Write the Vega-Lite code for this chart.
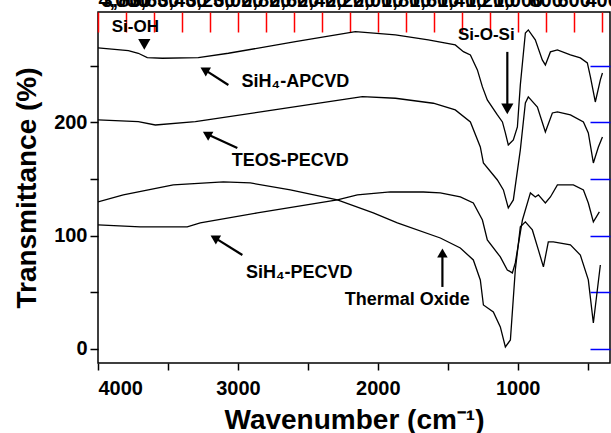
{
  "$schema": "https://vega.github.io/schema/vega-lite/v6.json",
  "width": 512,
  "height": 351,
  "autosize": {"type": "none"},
  "padding": {"left": 98, "top": 12, "right": 1, "bottom": 70},
  "background": "white",
  "config": {
    "view": {"stroke": "black", "strokeWidth": 1.5},
    "font": "Liberation Sans",
    "axis": {"grid": false, "domain": false, "tickColor": "black", "tickWidth": 1.5, "labelColor": "black", "titleColor": "black", "labelFont": "Liberation Sans", "titleFont": "Liberation Sans", "labelFontWeight": "bold", "titleFontWeight": "bold", "labelFontSize": 20, "titleFontSize": 28, "labelOverlap": false}
  },
  "datasets": {
    "spectra": [
      {"film": "SiH4-APCVD", "wavenumber": 4000, "transmittance": 265.6},
      {"film": "SiH4-APCVD", "wavenumber": 3783, "transmittance": 263.2},
      {"film": "SiH4-APCVD", "wavenumber": 3712, "transmittance": 260.9},
      {"film": "SiH4-APCVD", "wavenumber": 3648, "transmittance": 257.0},
      {"film": "SiH4-APCVD", "wavenumber": 3540, "transmittance": 256.5},
      {"film": "SiH4-APCVD", "wavenumber": 3283, "transmittance": 257.0},
      {"film": "SiH4-APCVD", "wavenumber": 3068, "transmittance": 260.9},
      {"film": "SiH4-APCVD", "wavenumber": 2589, "transmittance": 271.1},
      {"film": "SiH4-APCVD", "wavenumber": 2160, "transmittance": 280.0},
      {"film": "SiH4-APCVD", "wavenumber": 1874, "transmittance": 277.1},
      {"film": "SiH4-APCVD", "wavenumber": 1639, "transmittance": 272.7},
      {"film": "SiH4-APCVD", "wavenumber": 1446, "transmittance": 268.2},
      {"film": "SiH4-APCVD", "wavenumber": 1388, "transmittance": 262.3},
      {"film": "SiH4-APCVD", "wavenumber": 1338, "transmittance": 259.4},
      {"film": "SiH4-APCVD", "wavenumber": 1288, "transmittance": 246.2},
      {"film": "SiH4-APCVD", "wavenumber": 1252, "transmittance": 231.2},
      {"film": "SiH4-APCVD", "wavenumber": 1217, "transmittance": 219.7},
      {"film": "SiH4-APCVD", "wavenumber": 1145, "transmittance": 206.5},
      {"film": "SiH4-APCVD", "wavenumber": 1109, "transmittance": 200.3},
      {"film": "SiH4-APCVD", "wavenumber": 1088, "transmittance": 190.6},
      {"film": "SiH4-APCVD", "wavenumber": 1067, "transmittance": 180.0},
      {"film": "SiH4-APCVD", "wavenumber": 1031, "transmittance": 184.4},
      {"film": "SiH4-APCVD", "wavenumber": 1002, "transmittance": 195.9},
      {"film": "SiH4-APCVD", "wavenumber": 981, "transmittance": 233.0},
      {"film": "SiH4-APCVD", "wavenumber": 945, "transmittance": 278.8},
      {"film": "SiH4-APCVD", "wavenumber": 924, "transmittance": 281.5},
      {"film": "SiH4-APCVD", "wavenumber": 874, "transmittance": 272.7},
      {"film": "SiH4-APCVD", "wavenumber": 824, "transmittance": 255.0},
      {"film": "SiH4-APCVD", "wavenumber": 802, "transmittance": 250.6},
      {"film": "SiH4-APCVD", "wavenumber": 766, "transmittance": 262.1},
      {"film": "SiH4-APCVD", "wavenumber": 716, "transmittance": 263.8},
      {"film": "SiH4-APCVD", "wavenumber": 623, "transmittance": 259.4},
      {"film": "SiH4-APCVD", "wavenumber": 552, "transmittance": 256.8},
      {"film": "SiH4-APCVD", "wavenumber": 502, "transmittance": 252.4},
      {"film": "SiH4-APCVD", "wavenumber": 480, "transmittance": 240.0},
      {"film": "SiH4-APCVD", "wavenumber": 445, "transmittance": 217.9},
      {"film": "SiH4-APCVD", "wavenumber": 409, "transmittance": 237.4},
      {"film": "SiH4-APCVD", "wavenumber": 394, "transmittance": 243.5},
      {"film": "TEOS-PECVD", "wavenumber": 4000, "transmittance": 202.1},
      {"film": "TEOS-PECVD", "wavenumber": 3712, "transmittance": 200.6},
      {"film": "TEOS-PECVD", "wavenumber": 3590, "transmittance": 197.6},
      {"film": "TEOS-PECVD", "wavenumber": 3304, "transmittance": 200.6},
      {"film": "TEOS-PECVD", "wavenumber": 2825, "transmittance": 209.4},
      {"film": "TEOS-PECVD", "wavenumber": 2110, "transmittance": 222.6},
      {"film": "TEOS-PECVD", "wavenumber": 1874, "transmittance": 221.2},
      {"film": "TEOS-PECVD", "wavenumber": 1603, "transmittance": 216.8},
      {"film": "TEOS-PECVD", "wavenumber": 1446, "transmittance": 210.9},
      {"film": "TEOS-PECVD", "wavenumber": 1338, "transmittance": 200.3},
      {"film": "TEOS-PECVD", "wavenumber": 1267, "transmittance": 178.2},
      {"film": "TEOS-PECVD", "wavenumber": 1245, "transmittance": 164.1},
      {"film": "TEOS-PECVD", "wavenumber": 1145, "transmittance": 149.1},
      {"film": "TEOS-PECVD", "wavenumber": 1102, "transmittance": 140.3},
      {"film": "TEOS-PECVD", "wavenumber": 1067, "transmittance": 124.4},
      {"film": "TEOS-PECVD", "wavenumber": 1031, "transmittance": 131.5},
      {"film": "TEOS-PECVD", "wavenumber": 981, "transmittance": 175.6},
      {"film": "TEOS-PECVD", "wavenumber": 945, "transmittance": 217.1},
      {"film": "TEOS-PECVD", "wavenumber": 924, "transmittance": 222.4},
      {"film": "TEOS-PECVD", "wavenumber": 859, "transmittance": 213.5},
      {"film": "TEOS-PECVD", "wavenumber": 802, "transmittance": 191.5},
      {"film": "TEOS-PECVD", "wavenumber": 752, "transmittance": 208.2},
      {"film": "TEOS-PECVD", "wavenumber": 716, "transmittance": 209.1},
      {"film": "TEOS-PECVD", "wavenumber": 623, "transmittance": 206.5},
      {"film": "TEOS-PECVD", "wavenumber": 530, "transmittance": 200.3},
      {"film": "TEOS-PECVD", "wavenumber": 495, "transmittance": 190.6},
      {"film": "TEOS-PECVD", "wavenumber": 459, "transmittance": 164.1},
      {"film": "TEOS-PECVD", "wavenumber": 423, "transmittance": 178.2},
      {"film": "TEOS-PECVD", "wavenumber": 394, "transmittance": 187.1},
      {"film": "SiH4-PECVD", "wavenumber": 4000, "transmittance": 109.4},
      {"film": "SiH4-PECVD", "wavenumber": 3698, "transmittance": 107.7},
      {"film": "SiH4-PECVD", "wavenumber": 3362, "transmittance": 107.7},
      {"film": "SiH4-PECVD", "wavenumber": 3269, "transmittance": 111.2},
      {"film": "SiH4-PECVD", "wavenumber": 2861, "transmittance": 120.0},
      {"film": "SiH4-PECVD", "wavenumber": 2289, "transmittance": 131.5},
      {"film": "SiH4-PECVD", "wavenumber": 2146, "transmittance": 135.9},
      {"film": "SiH4-PECVD", "wavenumber": 1910, "transmittance": 138.5},
      {"film": "SiH4-PECVD", "wavenumber": 1674, "transmittance": 138.5},
      {"film": "SiH4-PECVD", "wavenumber": 1553, "transmittance": 137.7},
      {"film": "SiH4-PECVD", "wavenumber": 1410, "transmittance": 134.1},
      {"film": "SiH4-PECVD", "wavenumber": 1317, "transmittance": 128.8},
      {"film": "SiH4-PECVD", "wavenumber": 1252, "transmittance": 113.8},
      {"film": "SiH4-PECVD", "wavenumber": 1217, "transmittance": 96.2},
      {"film": "SiH4-PECVD", "wavenumber": 1124, "transmittance": 81.2},
      {"film": "SiH4-PECVD", "wavenumber": 1074, "transmittance": 69.7},
      {"film": "SiH4-PECVD", "wavenumber": 1038, "transmittance": 67.1},
      {"film": "SiH4-PECVD", "wavenumber": 1017, "transmittance": 75.9},
      {"film": "SiH4-PECVD", "wavenumber": 966, "transmittance": 113.8},
      {"film": "SiH4-PECVD", "wavenumber": 909, "transmittance": 137.7},
      {"film": "SiH4-PECVD", "wavenumber": 874, "transmittance": 134.1},
      {"film": "SiH4-PECVD", "wavenumber": 852, "transmittance": 135.9},
      {"film": "SiH4-PECVD", "wavenumber": 802, "transmittance": 128.8},
      {"film": "SiH4-PECVD", "wavenumber": 766, "transmittance": 134.1},
      {"film": "SiH4-PECVD", "wavenumber": 716, "transmittance": 144.7},
      {"film": "SiH4-PECVD", "wavenumber": 602, "transmittance": 144.7},
      {"film": "SiH4-PECVD", "wavenumber": 530, "transmittance": 140.3},
      {"film": "SiH4-PECVD", "wavenumber": 495, "transmittance": 128.8},
      {"film": "SiH4-PECVD", "wavenumber": 459, "transmittance": 112.1},
      {"film": "SiH4-PECVD", "wavenumber": 416, "transmittance": 120.9},
      {"film": "Thermal Oxide", "wavenumber": 4000, "transmittance": 129.7},
      {"film": "Thermal Oxide", "wavenumber": 3819, "transmittance": 135.9},
      {"film": "Thermal Oxide", "wavenumber": 3462, "transmittance": 144.7},
      {"film": "Thermal Oxide", "wavenumber": 3104, "transmittance": 147.4},
      {"film": "Thermal Oxide", "wavenumber": 2911, "transmittance": 146.5},
      {"film": "Thermal Oxide", "wavenumber": 2625, "transmittance": 140.3},
      {"film": "Thermal Oxide", "wavenumber": 2289, "transmittance": 131.5},
      {"film": "Thermal Oxide", "wavenumber": 2032, "transmittance": 120.0},
      {"film": "Thermal Oxide", "wavenumber": 1860, "transmittance": 111.2},
      {"film": "Thermal Oxide", "wavenumber": 1553, "transmittance": 97.9},
      {"film": "Thermal Oxide", "wavenumber": 1410, "transmittance": 89.1},
      {"film": "Thermal Oxide", "wavenumber": 1317, "transmittance": 78.5},
      {"film": "Thermal Oxide", "wavenumber": 1267, "transmittance": 60.9},
      {"film": "Thermal Oxide", "wavenumber": 1245, "transmittance": 38.8},
      {"film": "Thermal Oxide", "wavenumber": 1174, "transmittance": 32.6},
      {"film": "Thermal Oxide", "wavenumber": 1124, "transmittance": 19.4},
      {"film": "Thermal Oxide", "wavenumber": 1088, "transmittance": 1.8},
      {"film": "Thermal Oxide", "wavenumber": 1052, "transmittance": 7.9},
      {"film": "Thermal Oxide", "wavenumber": 1017, "transmittance": 69.7},
      {"film": "Thermal Oxide", "wavenumber": 981, "transmittance": 107.7},
      {"film": "Thermal Oxide", "wavenumber": 945, "transmittance": 112.1},
      {"film": "Thermal Oxide", "wavenumber": 895, "transmittance": 105.0},
      {"film": "Thermal Oxide", "wavenumber": 852, "transmittance": 87.4},
      {"film": "Thermal Oxide", "wavenumber": 816, "transmittance": 72.4},
      {"film": "Thermal Oxide", "wavenumber": 781, "transmittance": 94.4},
      {"film": "Thermal Oxide", "wavenumber": 745, "transmittance": 94.4},
      {"film": "Thermal Oxide", "wavenumber": 623, "transmittance": 91.8},
      {"film": "Thermal Oxide", "wavenumber": 552, "transmittance": 82.9},
      {"film": "Thermal Oxide", "wavenumber": 495, "transmittance": 60.9},
      {"film": "Thermal Oxide", "wavenumber": 459, "transmittance": 22.9},
      {"film": "Thermal Oxide", "wavenumber": 409, "transmittance": 74.1}
    ],
    "labelsLarge": [
      {"label": "SiH₄-APCVD", "wavenumber": 2589, "transmittance": 235.6},
      {"label": "TEOS-PECVD", "wavenumber": 2625, "transmittance": 165.9},
      {"label": "SiH₄-PECVD", "wavenumber": 2561, "transmittance": 67.1},
      {"label": "Thermal Oxide", "wavenumber": 1789, "transmittance": 43.2}
    ],
    "labelsSmall": [
      {"label": "Si-OH", "wavenumber": 3733, "transmittance": 284.1},
      {"label": "Si-O-Si", "wavenumber": 1224, "transmittance": 277.1}
    ],
    "shafts": [
      {"target": "SiH4-APCVD", "wavenumber": 3068, "transmittance": 232.9, "wavenumber2": 3239, "transmittance2": 246.4},
      {"target": "TEOS-PECVD", "wavenumber": 3004, "transmittance": 177.4, "wavenumber2": 3222, "transmittance2": 189.6},
      {"target": "SiH4-PECVD", "wavenumber": 2968, "transmittance": 82.9, "wavenumber2": 3167, "transmittance2": 98.2},
      {"target": "Thermal Oxide", "wavenumber": 1538, "transmittance": 54.7, "wavenumber2": 1538, "transmittance2": 84.7},
      {"target": "Si-O-Si", "wavenumber": 1074, "transmittance": 262.1, "wavenumber2": 1074, "transmittance2": 211.8}
    ],
    "headsUpLeft": [
      {"target": "SiH4-APCVD", "wavenumber": 3239, "transmittance": 246.4},
      {"target": "TEOS-PECVD", "wavenumber": 3222, "transmittance": 189.6},
      {"target": "SiH4-PECVD", "wavenumber": 3167, "transmittance": 98.2}
    ],
    "headsUp": [
      {"target": "Thermal Oxide", "wavenumber": 1538, "transmittance": 84.7}
    ],
    "headsDown": [
      {"target": "Si-O-Si", "wavenumber": 1074, "transmittance": 211.8},
      {"target": "Si-OH", "wavenumber": 3669, "transmittance": 268.7}
    ]
  },
  "layer": [
    {
      "data": {"name": "spectra"},
      "mark": {"type": "line", "color": "black", "strokeWidth": 1.3, "clip": true},
      "encoding": {
        "x": {"field": "wavenumber", "type": "quantitative",
          "scale": {"domain": [4000, 340], "nice": false, "zero": false},
          "axis": {"orient": "bottom", "values": [4000, 3500, 3000, 2500, 2000, 1500, 1000, 500],
            "labelExpr": "datum.value % 1000 === 0 ? '' + datum.value : ''",
            "tickSize": 7, "labelPadding": 8, "title": "Wavenumber (cm⁻¹)", "titlePadding": 8}},
        "y": {"field": "transmittance", "type": "quantitative",
          "scale": {"domain": [-12.4, 297.3], "nice": false, "zero": false},
          "axis": {"orient": "left", "values": [0, 50, 100, 150, 200, 250],
            "labelExpr": "datum.value % 100 === 0 ? '' + datum.value : ''",
            "tickSize": 8,
            "labelPadding": 3, "title": "Transmittance (%)", "titlePadding": 12}},
        "detail": {"field": "film", "type": "nominal"}
      }
    },
    {
      "data": {"name": "headsUpLeft"},
      "mark": {"type": "point", "shape": "triangle-up", "angle": 300, "size": 110, "filled": true, "color": "black", "opacity": 1},
      "encoding": {
        "x": {"field": "wavenumber", "type": "quantitative",
          "axis": {"orient": "top", "tickSize": 20, "offset": -20, "tickColor": "red", "title": null}},
        "y": {"field": "transmittance", "type": "quantitative",
          "axis": {"orient": "right", "tickSize": 20, "offset": -20, "tickColor": "blue", "title": null}}
      }
    },
    {
      "data": {"name": "labelsLarge"},
      "mark": {"type": "text", "font": "Liberation Sans", "fontWeight": "bold", "fontSize": 18, "align": "center", "baseline": "middle", "color": "black"},
      "encoding": {
        "x": {"field": "wavenumber", "type": "quantitative", "axis": null},
        "y": {"field": "transmittance", "type": "quantitative", "axis": null},
        "text": {"field": "label", "type": "nominal"}
      }
    },
    {
      "data": {"name": "labelsSmall"},
      "mark": {"type": "text", "font": "Liberation Sans", "fontWeight": "bold", "fontSize": 17, "align": "center", "baseline": "middle", "color": "black"},
      "encoding": {
        "x": {"field": "wavenumber", "type": "quantitative", "axis": null},
        "y": {"field": "transmittance", "type": "quantitative", "axis": null},
        "text": {"field": "label", "type": "nominal"}
      }
    },
    {
      "data": {"name": "shafts"},
      "mark": {"type": "rule", "color": "black", "strokeWidth": 2.2},
      "encoding": {
        "x": {"field": "wavenumber", "type": "quantitative", "axis": null},
        "y": {"field": "transmittance", "type": "quantitative", "axis": null},
        "x2": {"field": "wavenumber2"},
        "y2": {"field": "transmittance2"}
      }
    },
    {
      "data": {"name": "headsUp"},
      "mark": {"type": "point", "shape": "triangle-up", "size": 110, "filled": true, "color": "black", "opacity": 1},
      "encoding": {
        "x": {"field": "wavenumber", "type": "quantitative", "axis": null},
        "y": {"field": "transmittance", "type": "quantitative", "axis": null}
      }
    },
    {
      "data": {"name": "headsDown"},
      "mark": {"type": "point", "shape": "triangle-down", "size": 150, "filled": true, "color": "black", "opacity": 1},
      "encoding": {
        "x": {"field": "wavenumber", "type": "quantitative", "axis": null},
        "y": {"field": "transmittance", "type": "quantitative", "axis": null}
      }
    }
  ],
  "resolve": {"axis": {"x": "independent", "y": "independent"}}
}
